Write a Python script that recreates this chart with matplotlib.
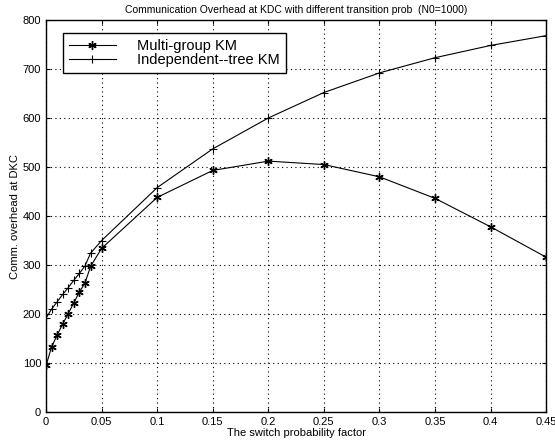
import matplotlib
matplotlib.use("Agg")
import matplotlib.pyplot as plt
from matplotlib.ticker import FuncFormatter

plt.rcParams['font.family'] = ['Liberation Sans', 'DejaVu Sans']

x = [0, 0.005, 0.01, 0.015, 0.02, 0.025, 0.03, 0.035, 0.04, 0.05,
     0.1, 0.15, 0.2, 0.25, 0.3, 0.35, 0.4, 0.45]
multi_group = [95, 133, 157, 180, 201, 223, 245, 263, 297, 334,
               438, 493, 512, 505, 480, 436, 378, 316]
indep_tree = [192, 210, 225, 240, 254, 269, 283, 298, 324, 350,
              458, 537, 600, 652, 692, 723, 748, 768]

title = "Communication Overhead at KDC with different transition prob  (N0=1000)"
xlabel = "The switch probability factor"
ylabel = "Comm. overhead at DKC"
xticks = [0, 0.05, 0.1, 0.15, 0.2, 0.25, 0.3, 0.35, 0.4, 0.45]
yticks = [0, 100, 200, 300, 400, 500, 600, 700, 800]

fig = plt.figure(figsize=(5.55, 4.44), dpi=100)
ax = fig.add_axes([0.083, 0.072, 0.901, 0.883])

ax.plot(x, multi_group, color='black', lw=0.8, marker=(6, 2, 0), ms=6, mew=1.0,
        label='Multi-group KM')
ax.plot(x, indep_tree, color='black', lw=0.8, marker='+', ms=5.5, mew=0.8,
        label='Independent--tree KM')

ax.set_xlim(0, 0.45)
ax.set_ylim(0, 800)
ax.set_xticks(xticks)
ax.set_yticks(yticks)
ax.xaxis.set_major_formatter(FuncFormatter(lambda v, p: f"{v:g}"))
ax.tick_params(direction='in', length=3, labelsize=8, width=0.8, top=True, right=True,
               labeltop=False, labelright=False)
ax.grid(True, color='black', linestyle=(0, (1, 3)), linewidth=0.8)
for s in ax.spines.values():
    s.set_linewidth(1.0)

ax.set_title(title, fontsize=7.5, pad=5)
ax.set_xlabel(xlabel, fontsize=8, labelpad=1)
ax.set_ylabel(ylabel, fontsize=8, labelpad=2)

leg = ax.legend(loc='upper left', bbox_to_anchor=(0.034, 0.967), borderaxespad=0,
                fontsize=10.5, handlelength=3.2, frameon=True, fancybox=False,
                edgecolor='black', framealpha=1, labelspacing=0.0,
                borderpad=0.4, handletextpad=1.5)
leg.get_frame().set_linewidth(1.0)

fig.savefig('out.png', dpi=100)
